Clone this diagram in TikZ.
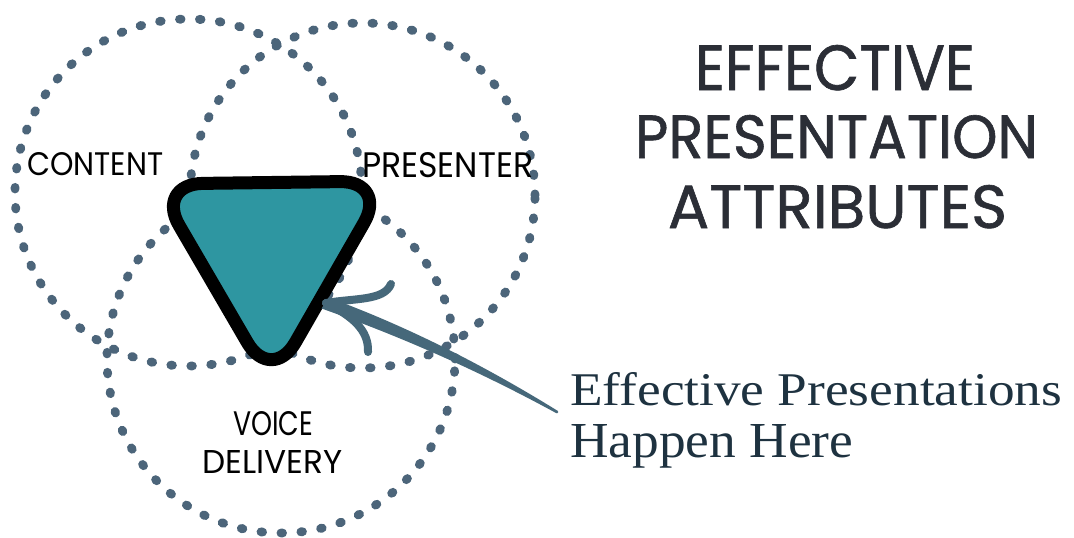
\documentclass[tikz,border=0pt]{standalone}
\usepackage{fontspec}
\usepackage{graphicx}
\setmainfont{Liberation Serif}
\newfontfamily\handfont{Poppins}[FakeBold=1.0]
\newfontfamily\lblfont{Poppins}
\definecolor{dotcol}{RGB}{76,101,122}
\definecolor{arrowcol}{RGB}{70,104,122}
\definecolor{tealfill}{RGB}{46,150,161}
\definecolor{titlecol}{RGB}{43,46,54}
\definecolor{sercol}{RGB}{30,50,64}
\begin{document}
\begin{tikzpicture}[x=1pt,y=-1pt,
  dotcircle/.style={circle, inner sep=0pt, minimum size=#1, draw=dotcol,
    line width=8.8pt, line cap=round, dash pattern=on 1.6pt off 18.4pt},
  lbl/.style={anchor=base west, inner sep=0pt, text=black},
  ttl/.style={anchor=base, inner sep=0pt, text=titlecol},
  captext/.style={anchor=base west, inner sep=0pt, text=sercol},
  tri/.style={draw=black, fill=tealfill, line width=13pt, line join=round, rounded corners=48pt},
  barb/.style={draw=arrowcol, line width=8pt, line cap=round}]
\useasboundingbox (0,0) rectangle (1074,538);
\fill[white] (0,0) rectangle (1074,538);
% circles
\node[dotcircle=347pt] (content) at (188.5,192.5) {};
\node[dotcircle=345pt] (presenter) at (362.5,195.5) {};
\node[dotcircle=348pt] (voice) at (281,359) {};
% triangle
\coordinate (triA) at (155,184);
\coordinate (triB) at (388,181);
\coordinate (triC) at (271.5,384);
\draw[tri] (271.5,182.5) -- (triB) -- (triC) -- (triA) -- cycle;
% labels
\node[lbl] (lcontent) at (27,175) {\resizebox{136pt}{23pt}{\lblfont CONTENT}};
\node[lbl] (lpresenter) at (362,177) {\resizebox{171pt}{25pt}{\lblfont PRESENTER}};
\node[lbl] (lvoice) at (233,435) {\resizebox{80pt}{24pt}{\lblfont VOICE}};
\node[lbl] (ldelivery) at (202,473) {\resizebox{140pt}{23pt}{\lblfont DELIVERY}};
% title
\node[ttl] (t1) at (835,90) {\resizebox{280pt}{45pt}{\handfont EFFECTIVE}};
\node[ttl] (t2) at (836.5,158) {\resizebox{403pt}{43pt}{\handfont PRESENTATION}};
\node[ttl] (t3) at (837.5,228) {\resizebox{339pt}{43pt}{\handfont ATTRIBUTES}};
% caption
\node[captext] (c1) at (570,405) {\resizebox{492pt}{33pt}{Effective Presentations}};
\node[captext] (c2) at (570,457) {\resizebox{283pt}{33pt}{Happen Here}};
% arrow
\coordinate (arrowtip) at (326,303);
\coordinate (arrowtail) at (557,412);
\fill[arrowcol] (328.5,297.5) .. controls (405.0,325.5) and (481.2,363.6) .. (557.6,410.8)
  -- (556.4,413.2) .. controls (478.0,370.4) and (399.6,336.0) .. (321.5,308.5) -- cycle;
\fill[arrowcol] (arrowtail) circle (1.3pt);
\draw[barb] (arrowtip) .. controls (355,298) and (384,301) .. (391,284);
\draw[barb] (arrowtip) .. controls (352,316) and (369,330) .. (368,352);
\end{tikzpicture}
\end{document}
